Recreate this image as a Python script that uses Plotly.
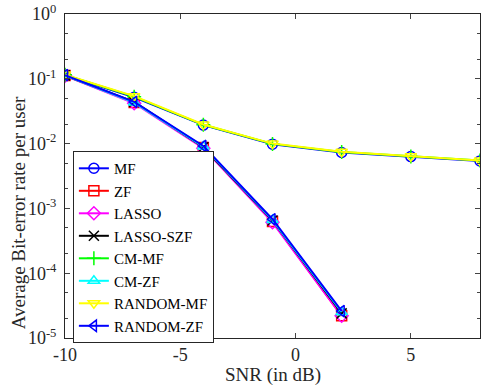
import plotly.graph_objects as go

snr_full = [-10, -7, -4, -1, 2, 5, 8]
snr_zf = [-10, -7, -4, -1, 2]

mf = [0.114, 0.052, 0.0193, 0.0098, 0.0073, 0.0063, 0.0054]
cm_mf = [0.115, 0.053, 0.0195, 0.0099, 0.0074, 0.0063, 0.0055]
random_mf = [0.116, 0.054, 0.0197, 0.0100, 0.0075, 0.0064, 0.0055]

zf = [0.112, 0.043, 0.0087, 0.00063, 2.2e-5]
lasso = [0.112, 0.042, 0.0085, 0.00061, 2.2e-5]
lasso_szf = [0.113, 0.044, 0.0088, 0.00065, 2.4e-5]
cm_zf = [0.113, 0.043, 0.0090, 0.00066, 2.5e-5]
random_zf = [0.114, 0.044, 0.0092, 0.00068, 2.6e-5]

series = [
    ("MF", snr_full, mf, "#0000ff", "circle-open"),
    ("ZF", snr_zf, zf, "#ff0000", "square-open"),
    ("LASSO", snr_zf, lasso, "#ff00ff", "diamond-open"),
    ("LASSO-SZF", snr_zf, lasso_szf, "#000000", "x-thin-open"),
    ("CM-MF", snr_full, cm_mf, "#00ff00", "cross-thin-open"),
    ("CM-ZF", snr_zf, cm_zf, "#00ffff", "triangle-up-open"),
    ("RANDOM-MF", snr_full, random_mf, "#ffff00", "triangle-down-open"),
    ("RANDOM-ZF", snr_zf, random_zf, "#0000ff", "triangle-left-open"),
]

x_ticks = [-10, -5, 0, 5]
x_ticktext = ["-10", "-5", "0", "5"]
y_tickvals = [1e0, 1e-1, 1e-2, 1e-3, 1e-4, 1e-5]
y_ticktext = ["10<sup>0</sup>", "10<sup>-1</sup>", "10<sup>-2</sup>", "10<sup>-3</sup>", "10<sup>-4</sup>", "10<sup>-5</sup>"]
x_title = "SNR (in dB)"
y_title = "Average Bit-error rate per user"

fig = go.Figure()
for name, xs, ys, col, sym in series:
    fig.add_trace(go.Scatter(
        x=xs, y=ys, name=name, mode="lines+markers",
        line=dict(color=col, width=2),
        marker=dict(symbol=sym, size=10, color=col, line=dict(color=col, width=1.5)),
    ))

serif = "Liberation Serif, DejaVu Serif"
font = dict(family=serif, size=18, color="#262626")

fig.update_layout(
    width=481, height=391,
    margin=dict(l=65, r=1, t=14, b=53, autoexpand=False),
    paper_bgcolor="white", plot_bgcolor="white",
    font=font,
    showlegend=True,
    legend=dict(
        x=0.019, y=0.577, xanchor="left", yanchor="top",
        bgcolor="white", bordercolor="#262626", borderwidth=1,
        font=dict(family=serif, size=15, color="#000000"),
        itemwidth=30, tracegroupgap=0,
    ),
    xaxis=dict(
        range=[-10, 8], tickvals=x_ticks, ticktext=x_ticktext, ticks="inside", ticklen=5,
        showline=True, linecolor="#262626", linewidth=1, mirror="ticks",
        showgrid=False, zeroline=False, automargin=False,
        tickfont=dict(family=serif, size=18),
    ),
    yaxis=dict(
        type="log", range=[-5, 0], tickvals=y_tickvals, ticktext=y_ticktext,
        ticks="inside", ticklen=5, ticklabelstandoff=4,
        minor=dict(ticks="inside", ticklen=3, showgrid=False),
        showline=True, linecolor="#262626", linewidth=1, mirror="ticks",
        showgrid=False, zeroline=False, automargin=False,
        tickfont=dict(family=serif, size=18),
    ),
    annotations=[
        dict(text=x_title, xref="paper", yref="paper", x=0.501, y=-0.114,
             xanchor="center", yanchor="middle", showarrow=False,
             font=dict(family=serif, size=19, color="#262626")),
        dict(text=y_title, xref="paper", yref="paper", x=-0.113, y=0.385,
             xanchor="center", yanchor="middle", showarrow=False, textangle=-90,
             font=dict(family=serif, size=19, color="#262626")),
    ],
)

fig.write_html("out.html", config={"displayModeBar": False},
               post_script="document.body.style.margin='0px';")
